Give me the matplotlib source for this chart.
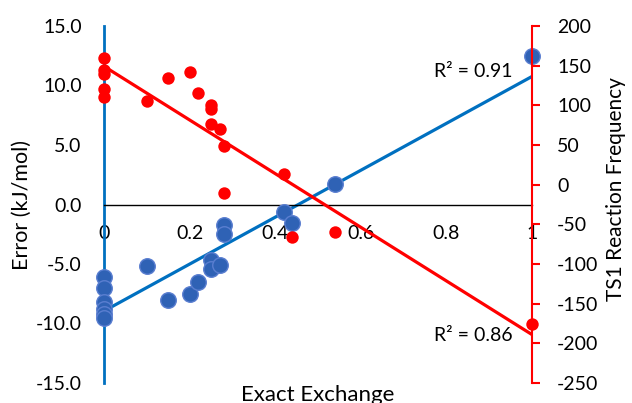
import matplotlib
matplotlib.use('Agg')
import matplotlib.pyplot as plt
import numpy as np

plt.rcParams['font.family'] = ['Lato', 'DejaVu Sans']
plt.rcParams['axes.unicode_minus'] = False

# Error (kJ/mol) vs exact exchange fraction (left axis)
err_x = [0, 0, 0, 0, 0, 0, 0.1, 0.15, 0.2, 0.22, 0.25, 0.25, 0.27, 0.28, 0.28,
         0.42, 0.44, 0.54, 1.0]
err_y = [-6.1, -7.0, -8.2, -8.8, -9.2, -9.5, -5.2, -8.05, -7.5, -6.5, -4.7, -5.4,
         -5.05, -1.7, -2.5, -0.6, -1.55, 1.75, 12.45]

# TS1 reaction frequency vs exact exchange fraction (right axis)
freq_x = [0, 0, 0, 0, 0, 0.1, 0.15, 0.2, 0.22, 0.25, 0.25, 0.25, 0.27, 0.28, 0.28,
          0.42, 0.44, 0.54, 1.0]
freq_y = [160, 145, 140, 120, 110, 105, 134, 142, 115, 100, 96, 76, 70, 49, -11,
          13, -66, -60, -176]

x_ticks = [0, 0.2, 0.4, 0.6, 0.8, 1.0]
x_tick_labels = ['0', '0.2', '0.4', '0.6', '0.8', '1']
err_ticks = [-15, -10, -5, 0, 5, 10, 15]
freq_ticks = [-250, -200, -150, -100, -50, 0, 50, 100, 150, 200]

BLUE = '#0070C0'
DOT_BLUE = '#2F62B5'
RED = '#FF0000'

fig = plt.figure(figsize=(6.32, 4.03), dpi=100)
ax = fig.add_axes([104 / 632, 1 - 383 / 403, 428 / 632, 357 / 403])
ax.set_xlim(0, 1)
ax.set_ylim(-15, 15)

for s in ['top', 'right']:
    ax.spines[s].set_visible(False)
ax.spines['left'].set_color(BLUE)
ax.spines['left'].set_linewidth(2)
ax.spines['bottom'].set_position(('data', 0))
ax.spines['bottom'].set_color('black')
ax.spines['bottom'].set_linewidth(1)

ax.set_yticks(err_ticks)
ax.set_yticklabels([f'{v:.1f}' for v in err_ticks])
ax.set_xticks(x_ticks)
ax.set_xticklabels(x_tick_labels)
ax.tick_params(axis='y', length=0, pad=16, labelsize=14)
ax.tick_params(axis='x', length=0, pad=15, labelsize=14)

# blue fit
z = np.polyfit(err_x, err_y, 1)
xx = np.array([0, 1])
ax.plot(xx, np.poly1d(z)(xx), color=BLUE, lw=2.3, zorder=2)
ax.scatter(err_x, err_y, s=125, color=DOT_BLUE, edgecolor='#5A7ED0', lw=1,
           zorder=3, clip_on=False)
ax.text(0.955, 10.5, 'R² = 0.91', ha='right', va='bottom', fontsize=14)

ax2 = ax.twinx()
ax2.set_ylim(-250, 200)
for s in ['top', 'left', 'bottom']:
    ax2.spines[s].set_visible(False)
ax2.spines['right'].set_color(RED)
ax2.spines['right'].set_linewidth(1.5)
ax2.set_yticks(freq_ticks)
ax2.tick_params(axis='y', direction='out', length=6, width=1.5, color=RED,
                pad=12, labelsize=14)

z2 = np.polyfit(freq_x, freq_y, 1)
ax2.plot(xx, np.poly1d(z2)(xx), color=RED, lw=2.3, zorder=2)
ax2.scatter(freq_x, freq_y, s=80, color=RED, lw=0, zorder=3, clip_on=False)
ax2.text(0.955, -190, 'R² = 0.86', ha='right', va='center', fontsize=14)

# x label sits at the bottom edge, partly cut like the original export
fig.text(318 / 632, 1 - 395 / 403, 'Exact Exchange', ha='center', va='center',
         fontsize=16)
fig.text(22 / 632, 1 - 205 / 403, 'Error (kJ/mol)', ha='center', va='center',
         rotation=90, fontsize=15.5)
fig.text(616 / 632, 1 - 189 / 403, 'TS1 Reaction Frequency', ha='center',
         va='center', rotation=90, fontsize=15)

fig.savefig('out.png', dpi=100)
